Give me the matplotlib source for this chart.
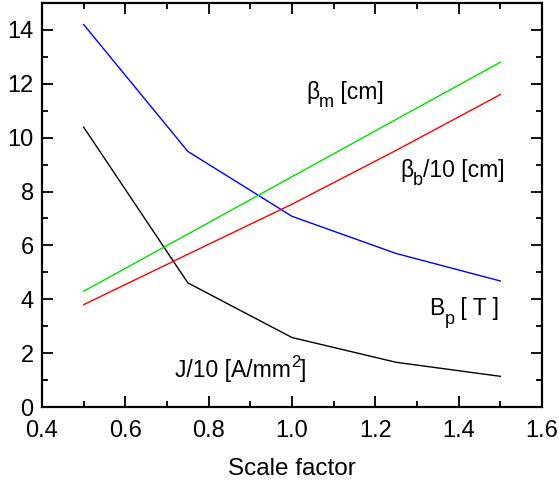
import matplotlib
matplotlib.use("Agg")
import matplotlib.pyplot as plt
from matplotlib.ticker import MultipleLocator

plt.rcParams['font.family'] = ['Liberation Sans', 'DejaVu Sans']

# --- data ---
scale = [0.5, 0.75, 1.0, 1.25, 1.5]
b_pole = [14.2, 9.49, 7.08, 5.70, 4.68]
j_density = [10.39, 4.61, 2.58, 1.66, 1.14]
beta_m = [4.3, 6.42, 8.55, 10.68, 12.8]
beta_b = [3.8, 5.67, 7.53, 9.53, 11.6]

fig = plt.figure(figsize=(5.59, 4.83), dpi=100)
ax = fig.add_axes([0.0751, 0.1573, 0.8945, 0.8365])

ax.plot(scale, b_pole, color="blue", lw=1.0)
ax.plot(scale, j_density, color="black", lw=1.0)
ax.plot(scale, beta_m, color="#00e000", lw=1.0)
ax.plot(scale, beta_b, color="red", lw=1.0)

fs = 16.5


def label(x, y, parts):
    # parts: (text, size, baseline shift in points)
    prev = ax.text(x, y, parts[0][0], fontsize=parts[0][1], va='baseline')
    for s, size, dy in parts[1:]:
        prev = ax.annotate(s, xy=(1, y), xycoords=(prev, 'data'),
                           xytext=(0, dy), textcoords='offset points',
                           fontsize=size, va='baseline', ha='left')


label(1.034, 11.45, [('β', fs, 0), ('m', 13, -6), (' [cm]', fs, 0)])
label(1.259, 8.54, [('β', fs, 0), ('b', 13, -6), ('/10 [cm]', fs, 0)])
label(1.329, 3.41, [('B', fs, 0), ('p', 13, -6), (' [ T ]', fs, 0)])
label(0.719, 1.12, [('J/10 [A/mm', fs, 0), ('2', 12, 7), (']', fs, 0)])

ax.set_xlim(0.4, 1.6)
ax.set_ylim(0, 15)
ax.xaxis.set_major_locator(MultipleLocator(0.2))
ax.xaxis.set_minor_locator(MultipleLocator(0.1))
ax.yaxis.set_major_locator(MultipleLocator(2))
ax.yaxis.set_minor_locator(MultipleLocator(1))
ax.xaxis.set_major_formatter(matplotlib.ticker.FormatStrFormatter('%.1f'))

ax.tick_params(which='both', direction='in', top=True, right=True,
               labelsize=17, width=1.3)
ax.tick_params(axis='x', which='major', length=8, pad=9)
ax.tick_params(axis='y', which='major', length=8, pad=6)
ax.tick_params(which='minor', length=4.5)
for s in ax.spines.values():
    s.set_linewidth(1.6)

ax.set_xlabel("Scale factor", fontsize=17.5, labelpad=12)

fig.savefig("out.png", dpi=100)
